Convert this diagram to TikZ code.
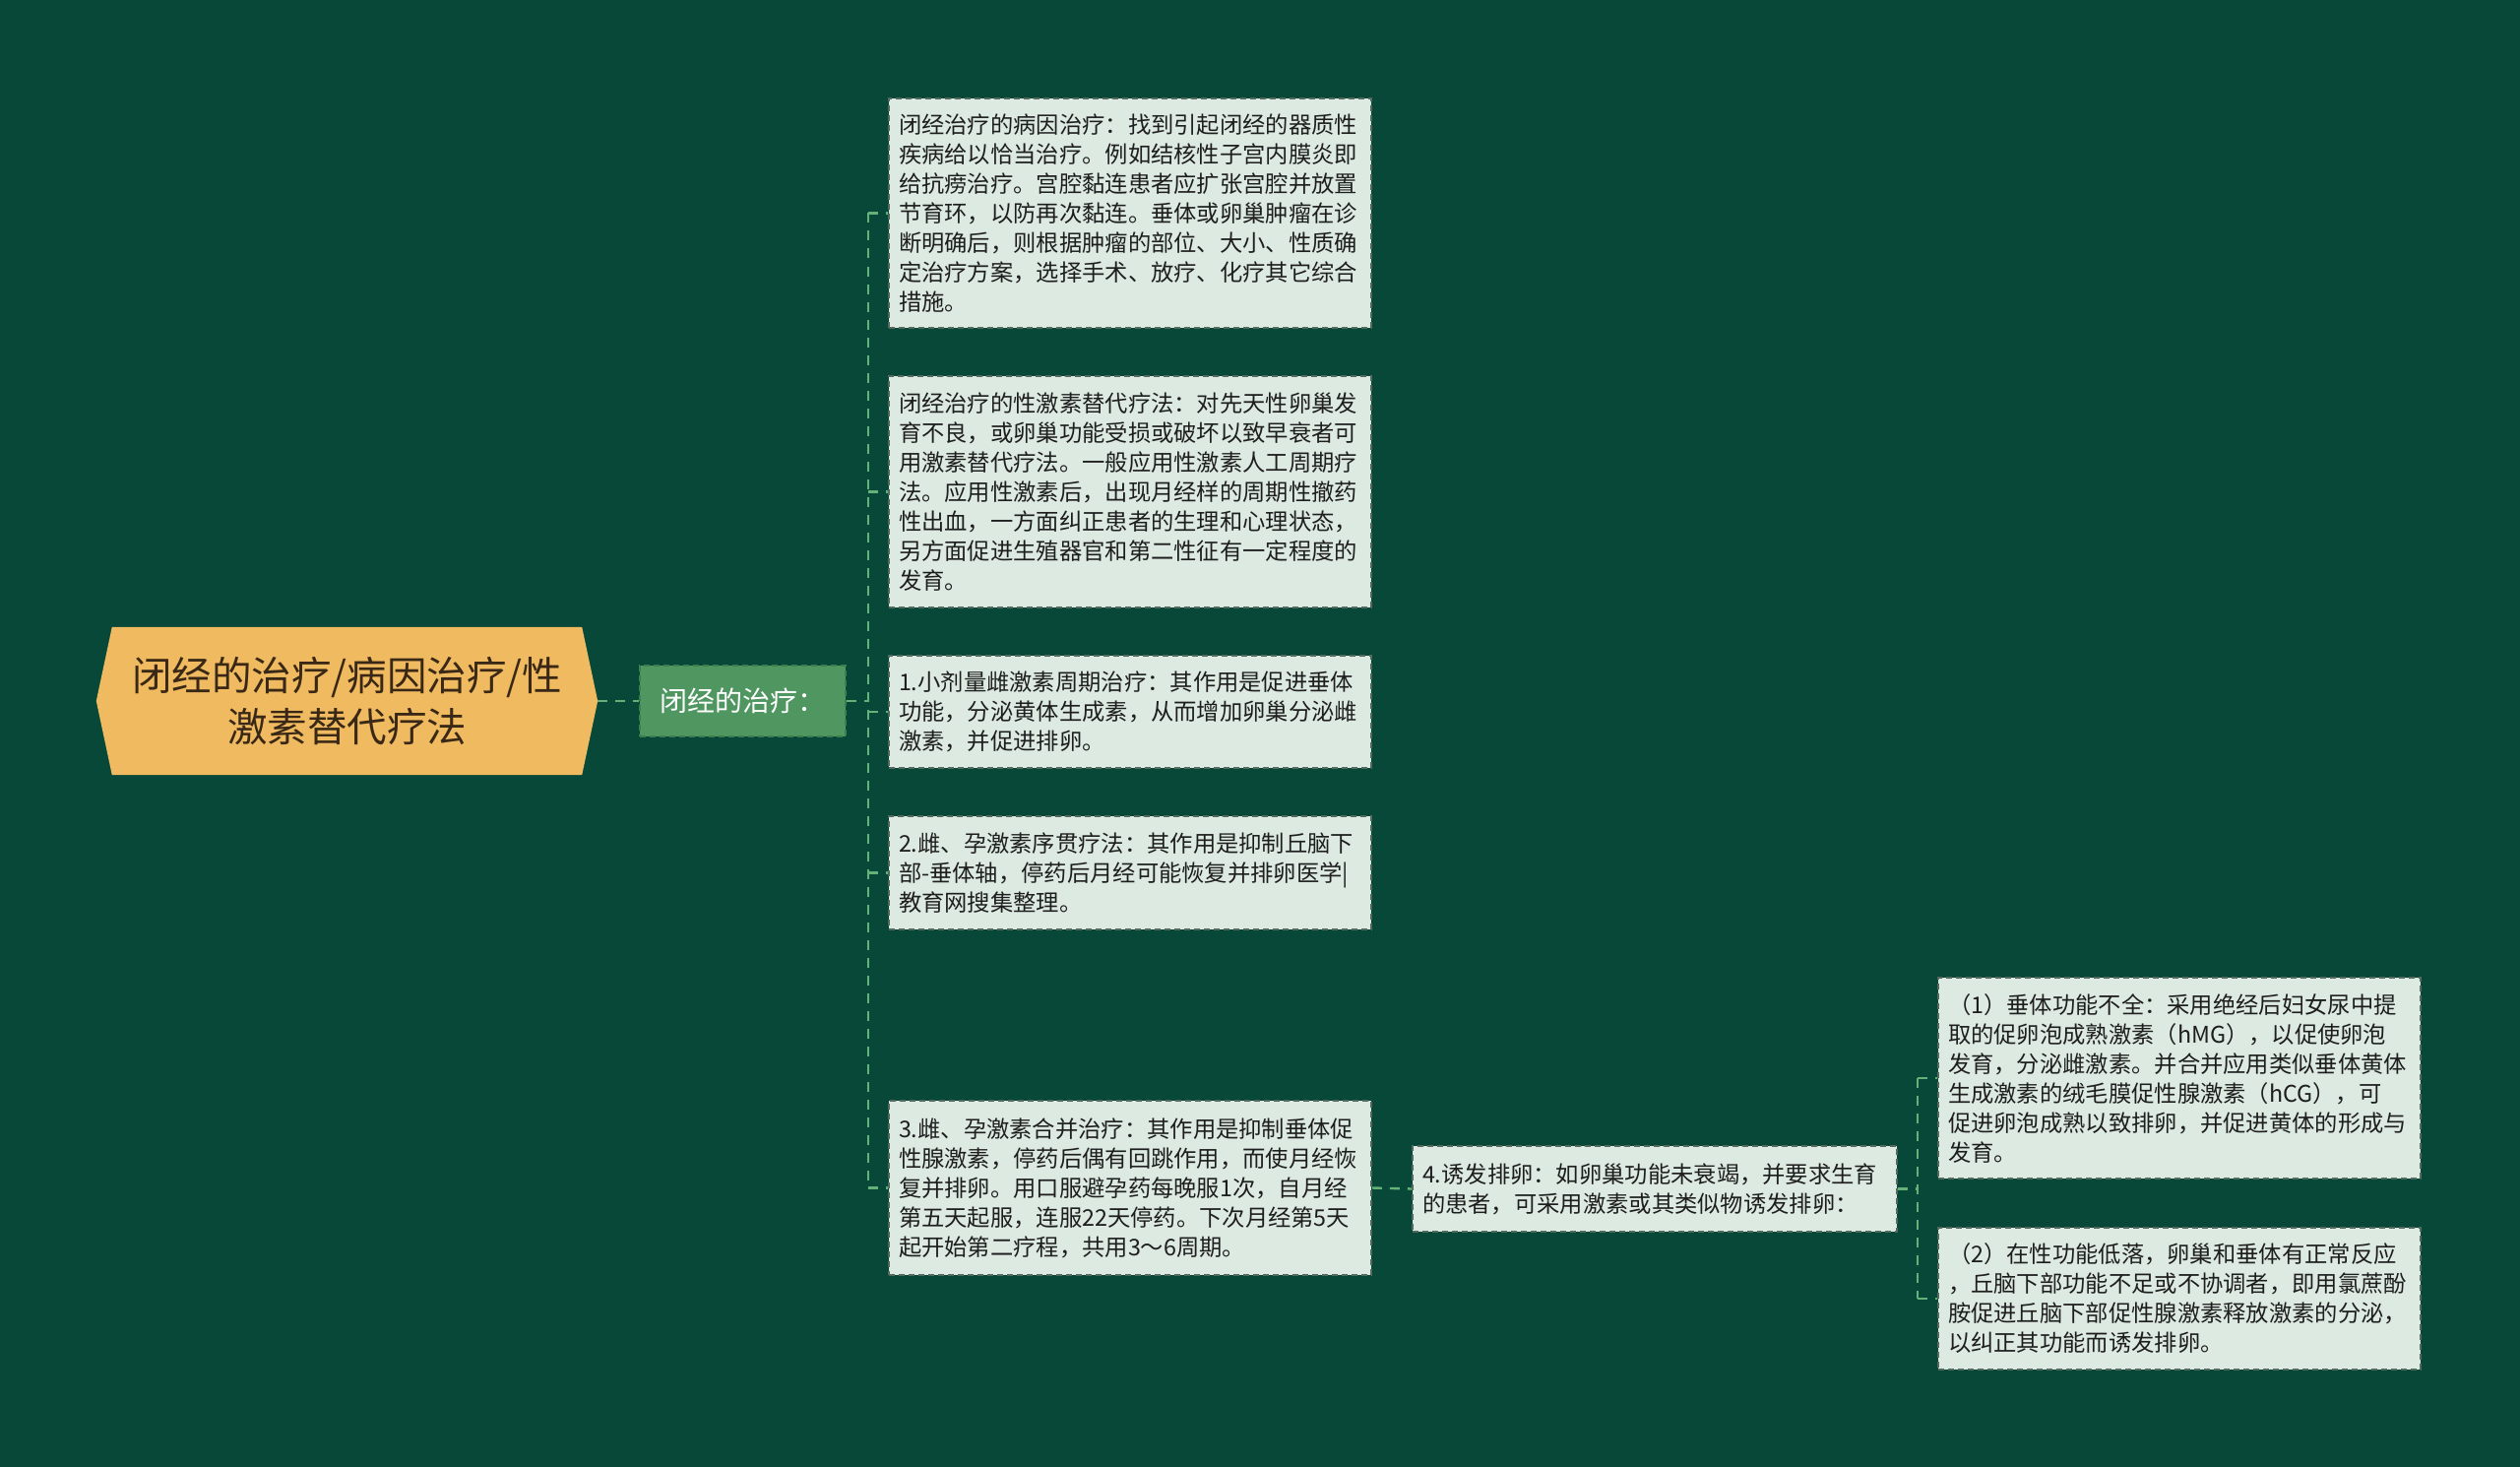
\documentclass[tikz,border=0pt]{standalone}
\usepackage{fontspec}
\newfontfamily\cjk{Noto Sans CJK SC}
\usetikzlibrary{backgrounds}
\definecolor{bg}{RGB}{7,72,57}
\definecolor{rootfill}{RGB}{240,186,96}
\definecolor{roottext}{RGB}{58,40,22}
\definecolor{lonefill}{RGB}{80,150,96}
\definecolor{loneline}{RGB}{62,125,78}
\definecolor{boxfill}{RGB}{221,234,225}
\definecolor{boxline}{RGB}{85,105,95}
\definecolor{boxtext}{RGB}{30,30,30}
\definecolor{connc}{RGB}{100,178,120}
\begin{document}
\begin{tikzpicture}[x=1pt,y=-1pt,
  leaf/.style={draw=boxline, dash pattern=on 6pt off 4pt, line width=1.6pt,
    fill=boxfill, text=boxtext, font=\cjk\fontsize{23.3}{30}\selectfont,
    text width=470pt, align=left, inner xsep=10pt, inner ysep=0pt,
    minimum width=490pt, anchor=center},
  conn/.style={draw=connc, line width=2.4pt, dash pattern=on 10pt off 8pt},
]
\begin{scope}[on background layer]
  \fill[bg] (0,0) rectangle (2560,1490);
\end{scope}
\useasboundingbox (0,0) rectangle (2560,1490);

% root
\node[font=\cjk\fontsize{40.5}{52}\selectfont, text=roottext, align=center,
  minimum width=509pt, minimum height=150pt, inner sep=0pt] (root) at (352.5,712)
  {闭经的治疗/病因治疗/性\\激素替代疗法};
\begin{scope}[on background layer]
  \fill[rootfill] (root.west) -- ([xshift=16pt]root.north west) -- ([xshift=-16pt]root.north east)
    -- (root.east) -- ([xshift=-16pt]root.south east) -- ([xshift=16pt]root.south west) -- cycle;
\end{scope}

% level 1
\node[fill=lonefill, draw=loneline, dash pattern=on 6pt off 4pt, line width=1.6pt,
  text=white, font=\cjk\fontsize{28}{32}\selectfont,
  minimum width=209pt, minimum height=72pt, inner sep=0pt] (l1) at (754.5,712) {闭经的治疗：};

% children
\node[leaf, minimum height=233pt] (c1) at (1148,216.5) {闭经治疗的病因治疗：找到引起闭经的器质性\\疾病给以恰当治疗。例如结核性子宫内膜炎即\\给抗痨治疗。宫腔黏连患者应扩张宫腔并放置\\节育环，以防再次黏连。垂体或卵巢肿瘤在诊\\断明确后，则根据肿瘤的部位、大小、性质确\\定治疗方案，选择手术、放疗、化疗其它综合\\措施。};
\node[leaf, minimum height=235pt] (c2) at (1148,499.5) {闭经治疗的性激素替代疗法：对先天性卵巢发\\育不良，或卵巢功能受损或破坏以致早衰者可\\用激素替代疗法。一般应用性激素人工周期疗\\法。应用性激素后，出现月经样的周期性撤药\\性出血，一方面纠正患者的生理和心理状态，\\另方面促进生殖器官和第二性征有一定程度的\\发育。};
\node[leaf, minimum height=114pt] (c3) at (1148,723) {1.小剂量雌激素周期治疗：其作用是促进垂体\\功能，分泌黄体生成素，从而增加卵巢分泌雌\\激素，并促进排卵。};
\node[leaf, minimum height=115pt] (c4) at (1148,886.5) {2.雌、孕激素序贯疗法：其作用是抑制丘脑下\\部-垂体轴，停药后月经可能恢复并排卵医学|\\教育网搜集整理。};
\node[leaf, minimum height=177pt] (c5) at (1148,1206.5) {3.雌、孕激素合并治疗：其作用是抑制垂体促\\性腺激素，停药后偶有回跳作用，而使月经恢\\复并排卵。用口服避孕药每晚服1次，自月经\\第五天起服，连服22天停药。下次月经第5天\\起开始第二疗程，共用3～6周期。};
\node[leaf, minimum width=492pt, text width=472pt, minimum height=87pt] (c6) at (1681,1207.5) {4.诱发排卵：如卵巢功能未衰竭，并要求生育\\的患者，可采用激素或其类似物诱发排卵：};
\node[leaf, minimum height=204pt] (c7) at (2214,1095) {（1）垂体功能不全：采用绝经后妇女尿中提\\取的促卵泡成熟激素（hMG），以促使卵泡\\发育，分泌雌激素。并合并应用类似垂体黄体\\生成激素的绒毛膜促性腺激素（hCG），可\\促进卵泡成熟以致排卵，并促进黄体的形成与\\发育。};
\node[leaf, minimum height=144pt] (c8) at (2214,1319) {（2）在性功能低落，卵巢和垂体有正常反应\\，丘脑下部功能不足或不协调者，即用氯蔗酚\\胺促进丘脑下部促性腺激素释放激素的分泌，\\以纠正其功能而诱发排卵。};

% connectors
\coordinate (j1) at (882,712);
\coordinate (j2) at (1948,1207.5);
\draw[conn] (root.east) -- (l1.west);
\draw[conn] (l1.east) -- (j1);
\draw[conn] (j1 |- c1.west) -- (j1 |- c5.west);
\foreach \c in {c1,c2,c3,c4,c5} {
  \draw[conn] (j1 |- \c.west) -- (\c.west);
}
\draw[conn] (c5.east) -- (c6.west);
\draw[conn] (c6.east) -- (j2);
\draw[conn] (j2 |- c7.west) -- (j2 |- c8.west);
\draw[conn] (j2 |- c7.west) -- (c7.west);
\draw[conn] (j2 |- c8.west) -- (c8.west);
\end{tikzpicture}
\end{document}
